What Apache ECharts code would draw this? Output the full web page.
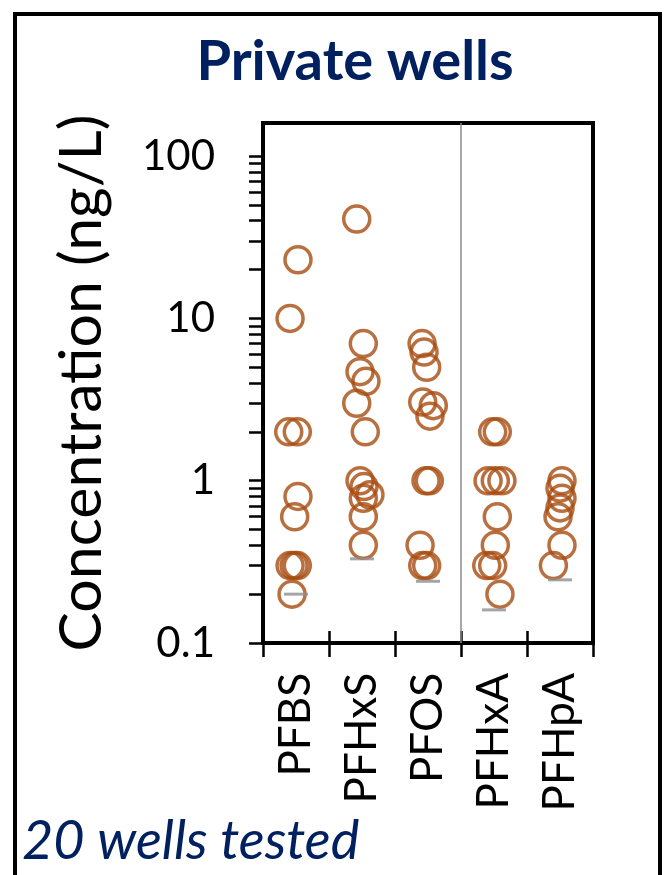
<!DOCTYPE html>
<html><head><meta charset="utf-8">
<script src="https://cdn.jsdelivr.net/npm/echarts@6/dist/echarts.min.js"></script>
<style>html,body{margin:0;padding:0;background:#fff}#c{width:667px;height:875px}</style>
</head><body><div id="c"></div>
<script>
const categories = ['PFBS', 'PFHxS', 'PFOS', 'PFHxA', 'PFHpA'];

const pfbsValues  = [23, 10, 2, 2, 0.8, 0.6, 0.3, 0.3, 0.3, 0.2];
const pfbsJitter  = [0.03, -0.09, -0.11, 0.02, 0.03, -0.02, -0.09, -0.03, 0.02, -0.06];
const pfhxsValues = [41, 7, 4.7, 4.1, 3, 2, 1.0, 0.92, 0.82, 0.78, 0.6, 0.4];
const pfhxsJitter = [-0.08, 0.02, -0.03, 0.06, -0.08, 0.05, -0.03, 0.03, 0.12, 0.02, 0.02, 0.02];
const pfosValues  = [7, 6.2, 5, 3.05, 2.9, 2.5, 1.0, 1.0, 0.4, 0.3, 0.3];
const pfosJitter  = [-0.09, -0.06, -0.02, -0.08, 0.08, 0.03, -0.03, 0.02, -0.12, -0.08, -0.02];
const pfhxaValues = [2, 2, 1, 1, 1, 0.6, 0.4, 0.3, 0.3, 0.2];
const pfhxaJitter = [-0.02, 0.05, -0.09, 0.02, 0.12, 0.05, 0.02, -0.11, -0.02, 0.09];
const pfhpaValues = [1.0, 0.9, 0.78, 0.68, 0.6, 0.4, 0.3];
const pfhpaJitter = [0.03, 0, 0.03, 0, -0.03, 0.03, -0.1];

const detectionLimits = [0.2, 0.33, 0.24, 0.16, 0.245];
const groupDivider = 2.5;

const yLabelValues = [0.1, 1, 10, 100];
const yTickValues = [0.1, 0.2, 0.3, 0.4, 0.5, 0.6, 0.7, 0.8, 0.9,
                     1, 2, 3, 4, 5, 6, 7, 8, 9,
                     10, 20, 30, 40, 50, 60, 70, 80, 90, 100];

const groups = [
  [pfbsValues, pfbsJitter], [pfhxsValues, pfhxsJitter], [pfosValues, pfosJitter],
  [pfhxaValues, pfhxaJitter], [pfhpaValues, pfhpaJitter]
];

const pointSeries = groups.map(function (g, ci) {
  return {
    type: 'scatter', xAxisIndex: 2, yAxisIndex: 0,
    name: categories[ci],
    symbol: 'circle', symbolSize: 26,
    itemStyle: { color: 'rgba(0,0,0,0)', borderColor: '#A84C10', borderWidth: 3.5 },
    data: g[0].map(function (v, i) { return [ci + g[1][i], v]; }),
    z: 3
  };
});

const chart = echarts.init(document.getElementById('c'), null, { renderer: 'canvas' });
chart.setOption({
  animation: false,
  backgroundColor: '#fff',
  title: {
    text: 'Private wells', left: 350, top: 29, textAlign: 'center',
    textStyle: { fontFamily: 'Lato', fontWeight: 'bold', fontSize: 56, color: '#002060' }
  },
  graphic: [
    { type: 'rect', shape: { x: 15, y: 14, width: 645, height: 900 },
      style: { fill: 'none', stroke: '#000', lineWidth: 4 }, z: 10 },
    { type: 'text', left: 22, top: 815,
      style: { text: '20 wells tested', fontFamily: 'Lato', fontStyle: 'italic', fontSize: 54, fill: '#002060' } }
  ],
  grid: { left: 263, top: 123, width: 330, height: 520, show: true, borderColor: '#000', borderWidth: 4 },
  xAxis: [
    { type: 'category', data: categories, position: 'bottom', boundaryGap: true,
      axisLine: { show: true, lineStyle: { color: '#000', width: 4 } },
      axisTick: { show: true, inside: false, length: 14, lineStyle: { color: '#000', width: 2.5 } },
      axisLabel: { rotate: 90, margin: 30, fontFamily: 'Lato', fontSize: 44, color: '#000' },
      splitLine: { show: false } },
    { type: 'category', data: categories, position: 'bottom', boundaryGap: true,
      axisLine: { show: false },
      axisTick: { show: true, inside: true, length: 12, lineStyle: { color: '#000', width: 2.5 } },
      axisLabel: { show: false }, splitLine: { show: false } },
    { type: 'value', min: -0.5, max: 4.5, show: false }
  ],
  yAxis: [{
    type: 'log', logBase: 10, min: 0.1, max: 160,
    name: 'Concentration (ng/L)', nameLocation: 'middle', nameGap: 152,
    nameTextStyle: { fontFamily: 'Lato', fontSize: 59, color: '#000' },
    axisLine: { show: true, onZero: false, lineStyle: { color: '#000', width: 4 } },
    axisTick: { show: true, inside: false, length: 14, customValues: yTickValues,
                lineStyle: { color: '#000', width: 2.5 } },
    axisLabel: { customValues: yLabelValues, margin: 48, fontFamily: 'Lato', fontSize: 42, color: '#000',
                 formatter: function (v) { return String(v); } },
    splitLine: { show: false }
  }],
  series: pointSeries.concat([{
    type: 'scatter', xAxisIndex: 2, yAxisIndex: 0, name: 'limit',
    symbol: 'rect', symbolSize: [24, 3],
    itemStyle: { color: '#8f8f8f' },
    data: detectionLimits.map(function (v, i) { return [i, v]; }),
    z: 4,
    markLine: {
      silent: true, symbol: 'none', label: { show: false },
      lineStyle: { color: '#8a8a8a', width: 1.5, type: 'solid' },
      data: [{ xAxis: groupDivider }]
    }
  }])
});
</script></body></html>
